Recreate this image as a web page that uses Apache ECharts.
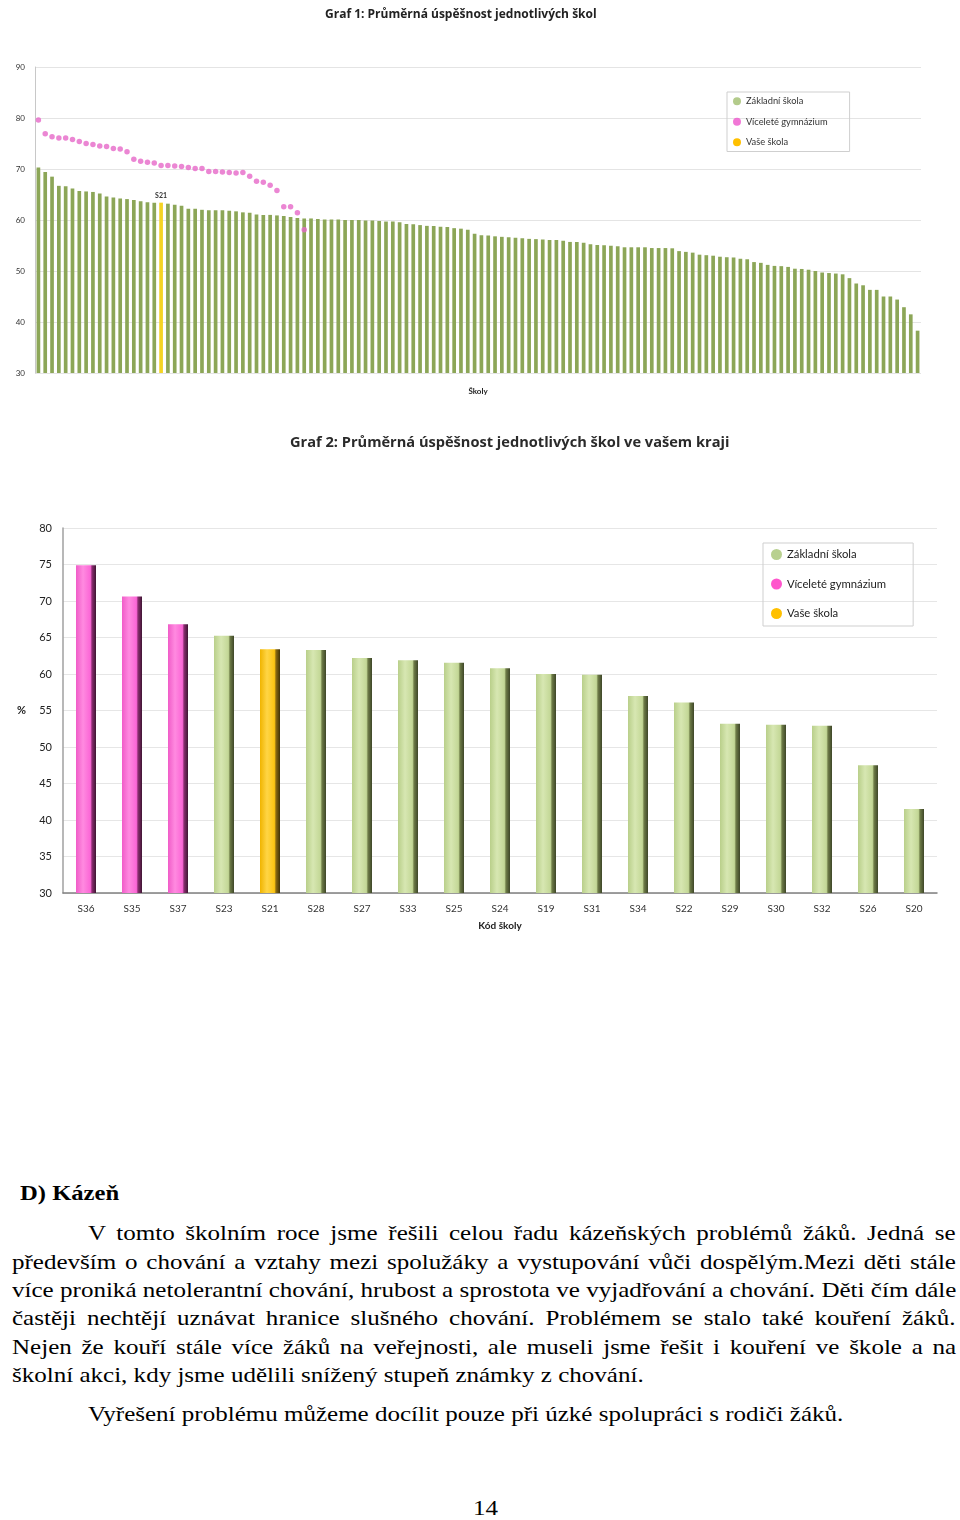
<!DOCTYPE html>
<html>
<head>
<meta charset="utf-8">
<script src="https://cdn.jsdelivr.net/npm/echarts@6/dist/echarts.min.js"></script>
<style>
  html, body { margin: 0; padding: 0; background: #fff; }
  body { width: 960px; height: 1520px; position: relative; overflow: hidden; }
  #c1 { position: absolute; left: 0; top: 0; width: 960px; height: 400px; }
  #c2 { position: absolute; left: 0; top: 400px; width: 960px; height: 540px; }
  .ln { position: absolute; font-family: "Liberation Serif", "Times New Roman", serif; font-size: 21.8px;
        line-height: 28px; white-space: nowrap; color: #000; transform-origin: 0 0; transform: scaleX(1.148); }
  .hd { font-weight: bold; transform: scaleX(1.13); }
</style>
</head>
<body>
<div id="c1"></div>
<div id="c2"></div>

<div class="ln hd" style="left:20px; top:1179px;">D) Kázeň</div>
<div class="ln js" data-w="868" style="left:88px; top:1219px;">V tomto školním roce jsme řešili celou řadu kázeňských problémů žáků. Jedná se</div>
<div class="ln js" data-w="944" style="left:12px; top:1248px;">především o chování a vztahy mezi spolužáky a vystupování vůči dospělým.Mezi děti stále</div>
<div class="ln js" data-w="944" style="left:12px; top:1276px;">více proniká netolerantní chování, hrubost a sprostota ve vyjadřování a chování. Děti čím dále</div>
<div class="ln js" data-w="944" style="left:12px; top:1304px;">častěji nechtějí uznávat hranice slušného chování. Problémem se stalo také kouření žáků.</div>
<div class="ln js" data-w="944" style="left:12px; top:1333px;">Nejen že kouří stále více žáků na veřejnosti, ale museli jsme řešit i kouření ve škole a na</div>
<div class="ln" style="left:12px; top:1361px;">školní akci, kdy jsme udělili snížený stupeň známky z chování.</div>
<div class="ln" style="left:88px; top:1400px;">Vyřešení problému můžeme docílit pouze při úzké spolupráci s rodiči žáků.</div>
<div class="ln" style="left:473px; top:1494px;">14</div>

<script>
// ---------- Graf 1 data ----------
var schoolScores1 = [
  70.3, 69.4, 68.5, 66.7, 66.6, 66.2, 65.7, 65.6, 65.5, 65.2,
  64.6, 64.4, 64.2, 64.1, 63.9, 63.7, 63.5, 63.4, 63.4, 63.2,
  63.0, 62.8, 62.2, 62.2, 62.0, 61.9, 61.9, 61.9, 61.8, 61.7,
  61.5, 61.4, 61.1, 61.0, 61.0, 60.9, 60.8, 60.6, 60.4, 60.3,
  60.3, 60.2, 60.1, 60.1, 60.1, 60.0, 60.0, 60.0, 59.9, 59.9,
  59.8, 59.7, 59.7, 59.55, 59.2, 59.15, 59.0, 58.85, 58.8, 58.7,
  58.65, 58.4, 58.3, 58.1, 57.3, 57.0, 56.95, 56.8, 56.7, 56.6,
  56.5, 56.4, 56.3, 56.25, 56.2, 56.1, 56.1, 55.95, 55.7, 55.7,
  55.55, 55.25, 55.1, 55.05, 54.95, 54.85, 54.65, 54.65, 54.65, 54.65,
  54.5, 54.5, 54.5, 54.45, 53.9, 53.75, 53.6, 53.2, 53.1, 53.0,
  52.8, 52.7, 52.65, 52.4, 52.3, 51.75, 51.6, 51.2, 51.0, 50.95,
  50.8, 50.45, 50.4, 50.25, 50.0, 49.7, 49.6, 49.5, 49.35, 48.6,
  47.55, 47.2, 46.3, 46.3, 45.0, 45.0, 44.4, 42.9, 41.5, 38.3
];
var gymScores1 = [
  79.6, 76.9, 76.3, 76.1, 76.1, 75.8, 75.4, 75.0, 74.8, 74.5,
  74.4, 74.0, 73.9, 73.4, 71.9, 71.5, 71.3, 71.2, 70.7, 70.7,
  70.6, 70.5, 70.3, 70.1, 70.1, 69.5, 69.5, 69.4, 69.3, 69.2,
  69.3, 68.6, 67.6, 67.4, 66.8, 65.8, 62.6, 62.6, 61.4, 58.1
];
var yourSchoolIndex1 = 18;
var yourSchoolCode = 'S21';
var yTicks1 = [30, 40, 50, 60, 70, 80, 90];

// ---------- Graf 2 data ----------
var schoolCodes2 = ['S36','S35','S37','S23','S21','S28','S27','S33','S25','S24','S19','S31','S34','S22','S29','S30','S32','S26','S20'];
var schoolScores2 = [74.9, 70.6, 66.8, 65.25, 63.4, 63.3, 62.2, 61.9, 61.55, 60.8, 60.0, 59.9, 57.0, 56.1, 53.2, 53.05, 52.9, 47.5, 41.5];
var schoolTypes2 = ['g','g','g','z','v','z','z','z','z','z','z','z','z','z','z','z','z','z','z'];
var yTicks2 = [30, 35, 40, 45, 50, 55, 60, 65, 70, 75, 80];

var seriesNames = { z: 'Základní škola', g: 'Víceleté gymnázium', v: 'Vaše škola' };
var FONT = 'Lato, "Open Sans", sans-serif';
var TFONT = '"Open Sans", Lato, sans-serif';

// ---------- Chart 1 ----------
var cats1 = schoolScores1.map(function (v, i) { return String(i + 1); });
var greenData1 = schoolScores1.map(function (v, i) { return i === yourSchoolIndex1 ? '-' : v; });
var yellowData1 = schoolScores1.map(function (v, i) { return i === yourSchoolIndex1 ? v : '-'; });
var gymData1 = schoolScores1.map(function (v, i) { return i < gymScores1.length ? gymScores1[i] : '-'; });

var c1 = echarts.init(document.getElementById('c1'), null, { renderer: 'canvas' });
c1.setOption({
  animation: false,
  textStyle: { fontFamily: FONT },
  title: {
    text: 'Graf 1: Průměrná úspěšnost jednotlivých škol',
    left: 320, top: 4,
    textStyle: { fontFamily: TFONT, fontSize: 12, fontWeight: 'bold', color: '#222' }
  },
  legend: {
    orient: 'vertical', left: 727, top: 92,
    padding: [4, 22, 4, 6], itemGap: 10, itemWidth: 8, itemHeight: 8,
    borderColor: '#cfcfcf', borderWidth: 1, icon: 'circle',
    textStyle: { fontFamily: FONT, fontSize: 9.3, color: '#333', lineHeight: 10.5 },
    data: [
      { name: seriesNames.z, itemStyle: { color: '#b3cb8b' } },
      { name: seriesNames.g, itemStyle: { color: '#ee55cc' } },
      { name: seriesNames.v, itemStyle: { color: '#ffc000' } }
    ]
  },
  grid: { left: 35, top: 67, width: 886, height: 310 },
  xAxis: {
    type: 'category', data: cats1,
    name: 'Školy', nameLocation: 'middle', nameGap: 14,
    nameTextStyle: { fontFamily: FONT, fontSize: 8, fontWeight: 'bold', color: '#222' },
    axisLine: { show: false }, axisTick: { show: false }, axisLabel: { show: false }
  },
  yAxis: {
    type: 'value', min: yTicks1[0], max: yTicks1[yTicks1.length - 1], interval: 10,
    axisLine: { show: true, lineStyle: { color: '#c8c8c8' } },
    axisTick: { show: false },
    axisLabel: { fontFamily: FONT, fontSize: 8, color: '#333', margin: 10 },
    splitLine: { lineStyle: { color: '#e4e4e4' } }
  },
  series: [
    { name: seriesNames.z, type: 'bar', data: greenData1, barWidth: '54%', barGap: '-100%',
      itemStyle: { color: '#8ca657' } },
    { name: seriesNames.v, type: 'bar', data: yellowData1, barWidth: '54%', barGap: '-100%',
      itemStyle: { color: '#f5d423' },
      label: { show: true, position: 'top', distance: 3, formatter: yourSchoolCode,
               fontFamily: FONT, fontSize: 7, fontWeight: 'bold', color: '#333' } },
    { name: seriesNames.g, type: 'scatter', data: gymData1, symbol: 'circle', symbolSize: 5.5,
      itemStyle: { color: '#e668c8' }, z: 5 }
  ]
});

// ---------- Chart 2 ----------
function grad(c0, c1, c2, dark, darker) {
  return new echarts.graphic.LinearGradient(0, 0, 1, 0, [
    { offset: 0, color: c0 }, { offset: 0.35, color: c1 }, { offset: 0.72, color: c2 },
    { offset: 0.8, color: dark }, { offset: 1, color: darker }
  ]);
}
var styles2 = {
  z: grad('#b9cf8a', '#d7e7b2', '#c3d796', '#6e7c47', '#3e4628'),
  g: grad('#f05cc8', '#ff8ae0', '#fb66d6', '#8a2d70', '#3e1532'),
  v: grad('#f0b400', '#ffd545', '#fcc512', '#8a6a10', '#3f3208')
};
function seriesFor(t) {
  return {
    name: seriesNames[t], type: 'bar', barWidth: 20, barGap: '-100%',
    data: schoolScores2.map(function (v, i) { return schoolTypes2[i] === t ? v : '-'; }),
    itemStyle: { color: styles2[t] }
  };
}
var c2 = echarts.init(document.getElementById('c2'), null, { renderer: 'canvas' });
c2.setOption({
  animation: false,
  textStyle: { fontFamily: FONT },
  title: {
    text: 'Graf 2: Průměrná úspěšnost jednotlivých škol ve vašem kraji',
    left: 285, top: 30,
    textStyle: { fontFamily: TFONT, fontSize: 14.6, fontWeight: 'bold', color: '#2a2a2a' }
  },
  legend: {
    orient: 'vertical', left: 763, top: 143,
    padding: [6, 27, 7, 8], itemGap: 18.5, itemWidth: 11, itemHeight: 11,
    borderColor: '#cfcfcf', borderWidth: 1, icon: 'circle',
    textStyle: { fontFamily: FONT, fontSize: 11.3, color: '#222' },
    data: [
      { name: seriesNames.z, itemStyle: { color: '#b8d08f' } },
      { name: seriesNames.g, itemStyle: { color: '#ff55cc' } },
      { name: seriesNames.v, itemStyle: { color: '#ffc000' } }
    ]
  },
  grid: { left: 63, top: 128, width: 874, height: 365 },
  xAxis: {
    type: 'category', data: schoolCodes2,
    name: 'Kód školy', nameLocation: 'middle', nameGap: 28,
    nameTextStyle: { fontFamily: FONT, fontSize: 10, fontWeight: 'bold', color: '#222' },
    axisLine: { lineStyle: { color: '#808080', width: 1.5 } },
    axisTick: { show: false },
    axisLabel: { fontFamily: FONT, fontSize: 10, color: '#333', margin: 11 }
  },
  yAxis: {
    type: 'value', min: yTicks2[0], max: yTicks2[yTicks2.length - 1], interval: 5,
    name: '%', nameLocation: 'middle', nameGap: 37, nameRotate: 0,
    nameTextStyle: { fontFamily: FONT, fontSize: 11, fontWeight: 'bold', color: '#222' },
    axisLine: { show: true, lineStyle: { color: '#a0a0a0', width: 1.5 } },
    axisTick: { show: false },
    axisLabel: { fontFamily: FONT, fontSize: 11, color: '#222', margin: 11 },
    splitLine: { lineStyle: { color: '#e6e6e6' } }
  },
  series: [seriesFor('z'), seriesFor('g'), seriesFor('v')]
});

// ---------- justify text lines ----------
var SX = 1.148;
document.querySelectorAll('.js').forEach(function (el) {
  var target = parseFloat(el.getAttribute('data-w')) / SX;
  var natural = el.scrollWidth;
  var spaces = (el.textContent.match(/ /g) || []).length;
  if (spaces > 0) el.style.wordSpacing = ((target - natural) / spaces) + 'px';
});
</script>
</body>
</html>
